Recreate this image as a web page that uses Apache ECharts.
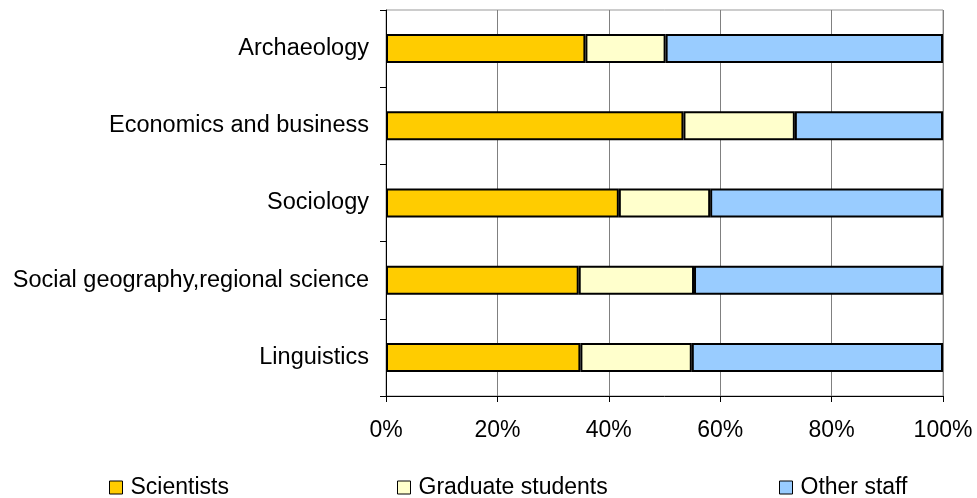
<!DOCTYPE html>
<html>
<head>
<meta charset="utf-8">
<script src="https://cdn.jsdelivr.net/npm/echarts@6/dist/echarts.min.js"></script>
<style>html,body{margin:0;padding:0;background:#fff;}#c{width:977px;height:498px;}</style>
</head>
<body>
<div id="c"></div>
<script>
var categories = ['Archaeology', 'Economics and business', 'Sociology', 'Social geography,regional science', 'Linguistics'];
var scientists = [35.8, 53.4, 41.8, 34.6, 34.9];
var graduateStudents = [14.4, 20.0, 16.4, 20.7, 20.0];
var otherStaff = [49.8, 26.6, 41.8, 44.7, 45.1];
var xTickLabels = ['0%', '20%', '40%', '60%', '80%', '100%'];

var FONT = '"Liberation Sans", Arial, sans-serif';
var FS = 23;
var chart = echarts.init(document.getElementById('c'), null, {renderer: 'canvas'});

function bar(name, data, color) {
  return {
    name: name, type: 'bar', stack: 'all', data: data, barWidth: 29,
    itemStyle: {color: color, borderColor: '#000', borderWidth: 2},
    emphasis: {disabled: true}
  };
}
function leg(name, left) {
  return {
    data: [name], left: left, top: 471, itemWidth: 13, itemHeight: 13, itemGap: 0,
    icon: 'rect', selectedMode: false,
    itemStyle: {borderColor: '#000', borderWidth: 1},
    textStyle: {fontFamily: FONT, fontSize: FS, color: '#000', padding: [0, 0, 0, 3]}
  };
}
chart.setOption({
  animation: false,
  backgroundColor: '#fff',
  grid: {left: 386, right: 34, top: 10, bottom: 102, show: true, borderColor: '#999', borderWidth: 1},
  xAxis: {
    type: 'value', min: 0, max: 100, interval: 20,
    axisLine: {show: true, lineStyle: {color: '#000', width: 1}},
    axisTick: {show: true, length: 6, lineStyle: {color: '#000'}},
    splitLine: {show: true, lineStyle: {color: '#808080', width: 1}},
    axisLabel: {
      margin: 23, fontFamily: FONT, fontSize: FS, color: '#000',
      formatter: function (v) { return xTickLabels[Math.round(v / 20)]; }
    }
  },
  yAxis: {
    type: 'category', data: categories, inverse: true,
    axisLine: {show: true, lineStyle: {color: '#000', width: 1}},
    axisTick: {show: true, length: 6, lineStyle: {color: '#000'}},
    axisLabel: {margin: 17, fontFamily: FONT, fontSize: 23.5, color: '#000', padding: [3, 0, 0, 0]}
  },
  legend: [leg('Scientists', 104), leg('Graduate students', 392), leg('Other staff', 774)],
  series: [
    bar('Scientists', scientists, '#FFCC00'),
    bar('Graduate students', graduateStudents, '#FFFFCC'),
    bar('Other staff', otherStaff, '#99CCFF')
  ]
});
</script>
</body>
</html>
